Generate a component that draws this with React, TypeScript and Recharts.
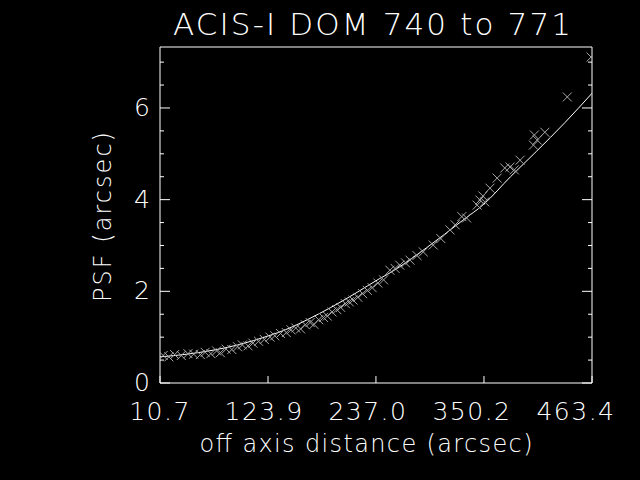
import React from "react";
import { ComposedChart, Line, Scatter, XAxis, YAxis } from "recharts";

// measured PSF points (off axis distance in arcsec, PSF in arcsec)
const distX = [
  14, 20, 26, 33, 40, 46, 53, 58, 64, 70, 74, 80, 86, 92, 97, 103, 108, 114,
  120, 126, 131, 137, 143, 148, 153, 158, 163, 168, 172, 177, 182, 186, 191,
  196, 200, 205, 209, 213, 218, 223, 228, 233, 239, 245, 251.6, 257, 262, 268,
  272.7, 280, 286.6, 297, 305, 314.6, 320, 327, 332, 343, 346, 349, 351, 356.5,
  364, 372, 377.5, 382, 388, 402, 403, 406, 414, 437.5, 462.4,
];
const psfY = [
  0.6, 0.57, 0.62, 0.6, 0.64, 0.63, 0.62, 0.67, 0.64, 0.7, 0.66, 0.74, 0.73,
  0.79, 0.83, 0.81, 0.87, 0.91, 0.95, 1.0, 1.03, 1.08, 1.1, 1.16, 1.2, 1.18,
  1.27, 1.32, 1.28, 1.38, 1.43, 1.46, 1.55, 1.6, 1.65, 1.73, 1.77, 1.81, 1.87,
  1.95, 2.02, 2.08, 2.18, 2.25, 2.46, 2.5, 2.57, 2.62, 2.68, 2.78, 2.86, 3.01,
  3.15, 3.34, 3.45, 3.63, 3.6, 3.88, 3.99, 4.08, 3.95, 4.25, 4.47, 4.69, 4.71,
  4.65, 4.86, 5.19, 5.41, 5.3, 5.47, 6.24, 7.11,
];

// fitted curve
const fitX = [10.7, 50, 92, 126, 142, 165, 189, 215, 241, 249, 290, 328, 350, 378, 405, 435, 463.4];
const fitY = [0.57, 0.66, 0.83, 1.04, 1.16, 1.38, 1.64, 1.95, 2.28, 2.37, 2.95, 3.55, 3.9, 4.5, 5.05, 5.68, 6.32];

const xTicks = [10.7, 123.9, 237.0, 350.2, 463.4];
const yTicks = [0, 0.5, 1, 1.5, 2, 2.5, 3, 3.5, 4, 4.5, 5, 5.5, 6, 6.5, 7];
const yMax = 7.33;

const points = distX.map((x, i) => ({ x, y: psfY[i] }));
const fit = fitX.map((x, i) => ({ x, y: fitY[i] }));

const FONT = "'DejaVu Sans', sans-serif";
const FG = "#ffffff";
const MARK = "#a8a8a8";

const BottomTick = (props: any) => {
  const { x, y, payload, index } = props;
  return (
    <g>
      <line x1={x} y1={y} x2={x} y2={y - 7} stroke={FG} />
      <text
        x={x - 4 * index}
        y={y + 37}
        textAnchor="middle"
        fill={FG}
        fontSize={25}
        fontFamily={FONT}
        fontWeight={200}
        letterSpacing={1.5}
      >
        {Number(payload.value).toFixed(1)}
      </text>
    </g>
  );
};

const TopTick = (props: any) => {
  const { x, y } = props;
  return <line x1={x} y1={y} x2={x} y2={y + 8} stroke={FG} />;
};

const LeftTick = (props: any) => {
  const { x, y, payload } = props;
  const major = payload.value % 2 === 0;
  return (
    <g>
      <line x1={x} y1={y} x2={x + (major ? 10 : 4)} y2={y} stroke={FG} />
      {major && (
        <text
          x={x - 10}
          y={y + 8}
          textAnchor="end"
          fill={FG}
          fontSize={25}
          fontFamily={FONT}
          fontWeight={200}
        >
          {payload.value}
        </text>
      )}
    </g>
  );
};

const RightTick = (props: any) => {
  const { x, y, payload } = props;
  const major = payload.value % 2 === 0;
  return <line x1={x} y1={y} x2={x - (major ? 10 : 4)} y2={y} stroke={FG} />;
};

const Cross = (props: any) => {
  const { cx, cy } = props;
  const s = 4.5;
  return (
    <path
      d={`M${cx - s},${cy - s}L${cx + s},${cy + s}M${cx - s},${cy + s}L${cx + s},${cy - s}`}
      stroke={MARK}
      strokeWidth={1}
      fill="none"
    />
  );
};

export default function App() {
  return (
    <div
      style={{
        position: "absolute",
        left: 0,
        top: 0,
        width: 640,
        height: 480,
        background: "#000",
      }}
    >
      <ComposedChart
        width={640}
        height={480}
        margin={{ top: 46, right: 47, left: 0, bottom: 0 }}
      >
        <XAxis
          dataKey="x"
          type="number"
          domain={[10.7, 463.4]}
          ticks={xTicks}
          height={97}
          stroke={FG}
          tickLine={false}
          tickSize={0}
          tickMargin={0}
          tick={<BottomTick />}
          interval={0}
          allowDataOverflow
        />
        <XAxis
          xAxisId="top"
          orientation="top"
          type="number"
          domain={[10.7, 463.4]}
          ticks={xTicks.slice(1, -1)}
          height={1}
          stroke={FG}
          tickLine={false}
          tickSize={0}
          tickMargin={0}
          tick={<TopTick />}
          interval={0}
          allowDataOverflow
        />
        <YAxis
          dataKey="y"
          type="number"
          domain={[0, yMax]}
          ticks={yTicks}
          width={160}
          stroke={FG}
          tickLine={false}
          tickSize={0}
          tickMargin={0}
          tick={<LeftTick />}
          interval={0}
          allowDataOverflow
        />
        <YAxis
          yAxisId="right"
          orientation="right"
          type="number"
          domain={[0, yMax]}
          ticks={yTicks}
          width={1}
          stroke={FG}
          tickLine={false}
          tickSize={0}
          tickMargin={0}
          tick={<RightTick />}
          interval={0}
          allowDataOverflow
        />
        <Scatter data={points} shape={<Cross />} isAnimationActive={false} />
        <Line
          data={fit}
          dataKey="y"
          type="monotone"
          stroke={FG}
          strokeWidth={1}
          dot={false}
          activeDot={false}
          isAnimationActive={false}
        />
      </ComposedChart>
      <svg
        width={640}
        height={480}
        style={{ position: "absolute", left: 0, top: 0, pointerEvents: "none" }}
      >
        <text
          x={372}
          y={35}
          textAnchor="middle"
          fill={FG}
          fontSize={31}
          fontFamily={FONT}
          fontWeight={200}
          textLength={398}
          lengthAdjust="spacing"
        >
          ACIS-I DOM 740 to 771
        </text>
        <text
          x={366}
          y={452}
          textAnchor="middle"
          fill={FG}
          fontSize={24}
          fontFamily={FONT}
          fontWeight={200}
          textLength={333}
          lengthAdjust="spacing"
        >
          off axis distance (arcsec)
        </text>
        <text
          x={0}
          y={0}
          transform="translate(111 217) rotate(-90)"
          textAnchor="middle"
          fill={FG}
          fontSize={24}
          fontFamily={FONT}
          fontWeight={200}
          textLength={170}
          lengthAdjust="spacing"
        >
          PSF (arcsec)
        </text>
      </svg>
    </div>
  );
}
